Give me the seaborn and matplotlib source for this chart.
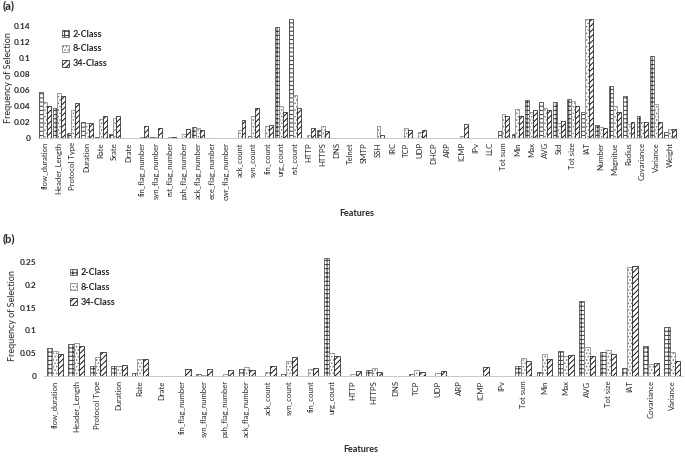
import pandas as pd
import matplotlib
matplotlib.use("Agg")
import matplotlib.pyplot as plt
import matplotlib.patches as mpatches
from matplotlib.ticker import FuncFormatter, MultipleLocator
import seaborn as sns

# ---- data: panel (a) ----
features_a = ['flow_duration', 'Header_Length', 'Protocol Type', 'Duration', 'Rate', 'Srate', 'Drate',
              'fin_flag_number', 'syn_flag_number', 'rst_flag_number', 'psh_flag_number', 'ack_flag_number',
              'ece_flag_number', 'cwr_flag_number', 'ack_count', 'syn_count', 'fin_count', 'urg_count',
              'rst_count', 'HTTP', 'HTTPS', 'DNS', 'Telnet', 'SMTP', 'SSH', 'IRC', 'TCP', 'UDP', 'DHCP',
              'ARP', 'ICMP', 'IPv', 'LLC', 'Tot sum', 'Min', 'Max', 'AVG', 'Std', 'Tot size', 'IAT',
              'Number', 'Magnitue', 'Radius', 'Covariance', 'Variance', 'Weight']
two_a = [0.058, 0.038, 0.0067, 0.020, 0.001, 0.0055, 0.0003,
         0.0003, 0.001, 0.0005, 0.0005, 0.0133,
         0.0005, 0.0005, 0.0005, 0.003, 0.0005, 0.138,
         0.148, 0.0005, 0.0105, 0.0005, 0.0, 0.0, 0.0, 0.0, 0.0005, 0.0, 0.0,
         0.0003, 0.0005, 0.0005, 0.0005, 0.0085, 0.0055, 0.047, 0.045, 0.045, 0.049, 0.032,
         0.0165, 0.065, 0.053, 0.028, 0.102, 0.0075]
eight_a = [0.045, 0.056, 0.035, 0.019, 0.024, 0.025, 0.0005,
           0.001, 0.0015, 0.001, 0.0046, 0.0125,
           0.0005, 0.0005, 0.0096, 0.027, 0.0155, 0.040,
           0.054, 0.004, 0.0155, 0.0005, 0.0, 0.0, 0.0145, 0.0, 0.013, 0.0075, 0.0,
           0.0005, 0.003, 0.0005, 0.0005, 0.030, 0.036, 0.033, 0.038, 0.019, 0.046, 0.148,
           0.0135, 0.040, 0.018, 0.0195, 0.043, 0.0115]
thirty_four_a = [0.040, 0.052, 0.044, 0.019, 0.0275, 0.027, 0.0005,
                 0.0146, 0.013, 0.001, 0.011, 0.0096,
                 0.0, 0.0, 0.022, 0.038, 0.016, 0.0325,
                 0.038, 0.012, 0.0085, 0.0005, 0.0, 0.0, 0.004, 0.0, 0.0095, 0.0105, 0.0,
                 0.0005, 0.018, 0.0005, 0.0005, 0.028, 0.028, 0.035, 0.0345, 0.021, 0.040, 0.148,
                 0.013, 0.033, 0.020, 0.020, 0.0195, 0.0115]

# ---- data: panel (b) ----
features_b = ['flow_duration', 'Header_Length', 'Protocol Type', 'Duration', 'Rate', 'Drate',
              'fin_flag_number', 'syn_flag_number', 'psh_flag_number', 'ack_flag_number', 'ack_count',
              'syn_count', 'fin_count', 'urg_count', 'HTTP', 'HTTPS', 'DNS', 'TCP', 'UDP', 'ARP',
              'ICMP', 'IPv', 'Tot sum', 'Min', 'Max', 'AVG', 'Tot size', 'IAT', 'Covariance', 'Variance']
two_b = [0.062, 0.071, 0.022, 0.022, 0.007, 0.0005,
         0.0005, 0.0037, 0.0005, 0.0146, 0.0005,
         0.004, 0.0005, 0.259, 0.0005, 0.014, 0.0005, 0.005, 0.0005, 0.0005,
         0.0005, 0.0005, 0.022, 0.009, 0.056, 0.164, 0.053, 0.018, 0.065, 0.107]
eight_b = [0.056, 0.073, 0.042, 0.023, 0.0365, 0.0005,
           0.001, 0.002, 0.005, 0.019, 0.010,
           0.033, 0.016, 0.051, 0.005, 0.018, 0.0005, 0.014, 0.007, 0.0005,
           0.001, 0.0005, 0.040, 0.0475, 0.045, 0.064, 0.058, 0.239, 0.027, 0.053]
thirty_four_b = [0.0475, 0.065, 0.052, 0.025, 0.0365, 0.0005,
                 0.0146, 0.0146, 0.0124, 0.0124, 0.023,
                 0.041, 0.018, 0.045, 0.012, 0.009, 0.0005, 0.0095, 0.012, 0.0005,
                 0.020, 0.0005, 0.034, 0.038, 0.047, 0.043, 0.049, 0.241, 0.0285, 0.033]

classes = ['2-Class', '8-Class', '34-Class']
hatches = ['++++', '.....', '//////']
edges = ['#3a3a3a', '#7a7a7a', '#111111']

sns.set_style('white')
plt.rcParams['font.family'] = ['Lato', 'DejaVu Sans']
plt.rcParams['hatch.linewidth'] = 0.7


def to_long(features, *series):
    frames = [pd.DataFrame({'Feature': features, 'Class': c, 'Value': v}) for c, v in zip(classes, series)]
    return pd.concat(frames, ignore_index=True)


def draw(ax, df, features, width, ymax, step, label_x):
    sns.barplot(data=df, x='Feature', y='Value', hue='Class', order=features, hue_order=classes,
                palette=['white'] * 3, width=width, errorbar=None, linewidth=0.5,
                legend=False, ax=ax)
    for cont, h, ec in zip(ax.containers, hatches, edges):
        for bar in cont:
            bar.set_hatch(h)
            bar.set_edgecolor(ec)
    ax.set_ylim(0, ymax)
    ax.yaxis.set_major_locator(MultipleLocator(step))
    ax.yaxis.set_major_formatter(FuncFormatter(lambda v, p: '%g' % round(v, 3)))
    ax.tick_params(axis='y', labelsize=6, length=0, pad=5.5)
    for t in ax.get_yticklabels():
        t.set_fontweight('bold')
    ax.tick_params(axis='x', labelrotation=90, labelsize=5.6, length=0, pad=3)
    ax.set_xlabel('')
    ax.set_ylabel('Frequency of Selection', fontsize=6.5)
    ax.yaxis.set_label_coords(label_x, 0.5)
    sns.despine(ax=ax, left=True)
    ax.spines['bottom'].set_color('#bfbfbf')
    ax.spines['bottom'].set_linewidth(0.6)
    handles = [mpatches.Patch(facecolor='white', edgecolor=ec, hatch=h, linewidth=0.5)
               for h, ec in zip(hatches, edges)]
    return handles


fig = plt.figure(figsize=(6.85, 4.57), dpi=100)
ax_a = fig.add_axes([0.0556, 0.698, 0.933, 0.263])
ax_b = fig.add_axes([0.0648, 0.177, 0.932, 0.265])

h = draw(ax_a, to_long(features_a, two_a, eight_a, thirty_four_a), features_a, 0.85, 0.15, 0.02, -0.039)
ax_a.legend(h, classes, loc='upper left', bbox_to_anchor=(0.078, 0.953), bbox_transform=fig.transFigure,
            frameon=False, handlelength=0.8, handleheight=0.8, handletextpad=0.4, labelspacing=0.65,
            prop={'size': 6.5, 'weight': 'bold'})

h = draw(ax_b, to_long(features_b, two_b, eight_b, thirty_four_b), features_b, 0.75, 0.265, 0.05, -0.043)
ax_b.legend(h, classes, loc='upper left', bbox_to_anchor=(0.09, 0.431), bbox_transform=fig.transFigure,
            frameon=False, handlelength=0.8, handleheight=0.8, handletextpad=0.4, labelspacing=0.65,
            prop={'size': 6.5, 'weight': 'bold'})

fig.text(357 / 685, 1 - 213 / 457, 'Features', ha='center', va='center', fontsize=6.5, fontweight='bold')
fig.text(361 / 685, 1 - 450 / 457, 'Features', ha='center', va='center', fontsize=6.5, fontweight='bold')
fig.text(0.004, 1 - 6 / 457, '(a)', ha='left', va='center', fontsize=8, fontweight='bold')
fig.text(0.004, 1 - 239 / 457, '(b)', ha='left', va='center', fontsize=8, fontweight='bold')

fig.savefig('out.png', dpi=100)
